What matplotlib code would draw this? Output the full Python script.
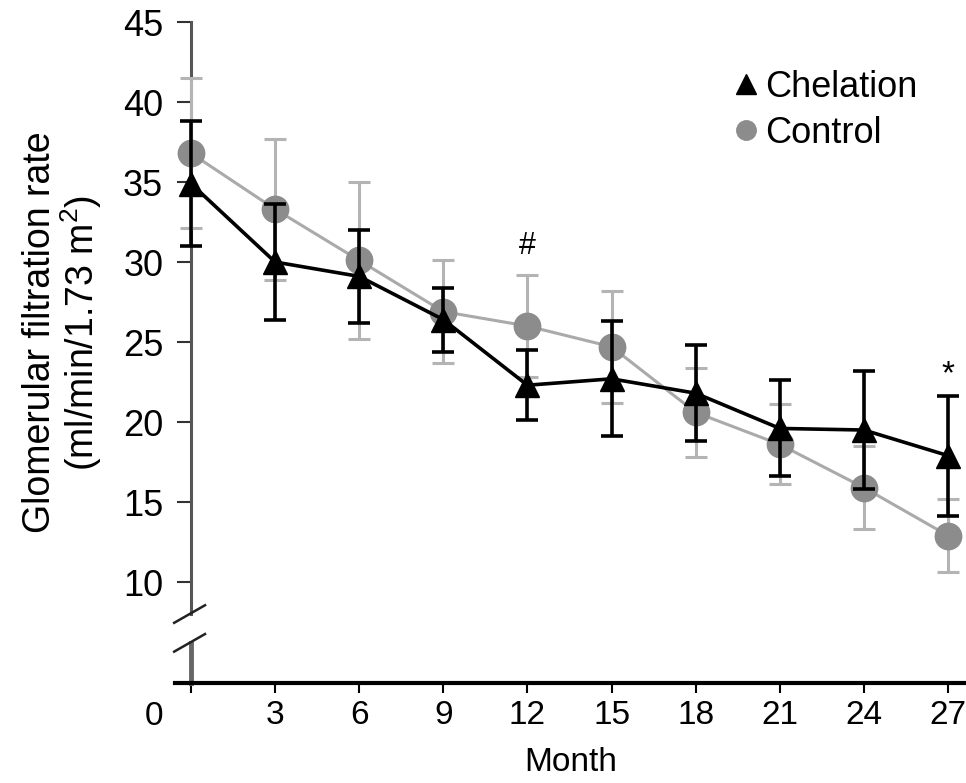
import matplotlib.pyplot as plt
from matplotlib.lines import Line2D

plt.rcParams['font.family'] = ['Liberation Sans', 'DejaVu Sans']
plt.rcParams['mathtext.fontset'] = 'custom'
plt.rcParams['mathtext.rm'] = 'Liberation Sans'

# values (mean +/- error)
months = [0, 3, 6, 9, 12, 15, 18, 21, 24, 27]
chelation = [34.9, 30.0, 29.1, 26.4, 22.3, 22.7, 21.8, 19.6, 19.5, 17.9]
chelation_err = [3.9, 3.6, 2.9, 2.0, 2.2, 3.6, 3.0, 3.0, 3.7, 3.75]
control = [36.8, 33.3, 30.1, 26.9, 26.0, 24.7, 20.6, 18.6, 15.9, 12.9]
control_err = [4.7, 4.4, 4.9, 3.2, 3.2, 3.5, 2.8, 2.5, 2.6, 2.3]
yticks = [10, 15, 20, 25, 30, 35, 40, 45]
xtick_labels = ['', '3', '6', '9', '12', '15', '18', '21', '24', '27']

ymin, ymax = 3.69, 45
break_lo, break_hi = 6.2, 8.0

fig = plt.figure(figsize=(9.66, 7.83), dpi=100)
ax = fig.add_axes([175/966, 1-683/783, 1-175/966, (683-22)/783])

ax.errorbar(months, control, yerr=control_err, color='#aaaaaa', lw=2.2,
            marker='o', ms=19, mfc='#8c8c8c', mec='#8c8c8c',
            ecolor='#b4b4b4', elinewidth=2.2, capsize=8, capthick=2.2, zorder=3)
ax.errorbar(months, chelation, yerr=chelation_err, color='black', lw=2.6,
            marker='^', ms=17, mfc='black', mec='black',
            ecolor='black', elinewidth=2.6, capsize=8, capthick=2.6, zorder=4)

# significance marks
ax.annotate('#', (12, control[4] + control_err[4]), xytext=(0, 10),
            textcoords='offset points', ha='center', va='bottom', fontsize=22)
ax.annotate('*', (27, chelation[9] + chelation_err[9]), xytext=(0, 4),
            textcoords='offset points', ha='center', va='bottom', fontsize=24)

ax.set_xlim(-0.57, 27.64)
ax.set_ylim(ymin, ymax)
ax.set_xticks(months)
ax.set_xticklabels(xtick_labels)
ax.set_yticks(yticks)
ax.text(-1.32, -0.027, '0', transform=ax.get_xaxis_transform(),
        ha='center', va='top', fontsize=24)

for s in ['top', 'right']:
    ax.spines[s].set_visible(False)
ax.spines['left'].set_position(('data', 0))
ax.spines['left'].set_bounds(break_hi, ymax)
ax.spines['left'].set_color('#555555')
ax.spines['left'].set_linewidth(2.2)
ax.spines['bottom'].set_linewidth(3)

# lower piece of the broken y axis and the break marks
ax.plot([0, 0], [ymin, break_lo], color='#666666', lw=3.5, clip_on=False, zorder=2)
for yb in [break_lo, break_hi]:
    ax.plot([-0.6, 0.5], [yb - 0.55, yb + 0.55], color='#222222', lw=1.8,
            clip_on=False, zorder=5)

ax.tick_params(axis='y', direction='out', length=10, width=1.5,
               color='#333333', labelsize=26, pad=10)
ax.tick_params(axis='x', direction='out', length=7, width=1.5,
               labelsize=24, pad=5)

ax.set_xlabel('Month', fontsize=24, labelpad=12)
ax.set_ylabel('Glomerular filtration rate\n(ml/min/1.73 m$^2$)', fontsize=27,
              linespacing=1.0)
ax.yaxis.set_label_coords(-0.09, 0.53)

handles = [Line2D([], [], ls='none', marker='^', ms=14, color='black'),
           Line2D([], [], ls='none', marker='o', ms=14, color='#8c8c8c')]
ax.legend(handles, ['Chelation', 'Control'], loc='upper left',
          bbox_to_anchor=((733-175)/791, 1-(70-22)/661), frameon=False,
          fontsize=26, handlelength=0.7, handletextpad=0.2, labelspacing=0.3,
          borderaxespad=0, borderpad=0)

fig.savefig('out.png', dpi=100)
